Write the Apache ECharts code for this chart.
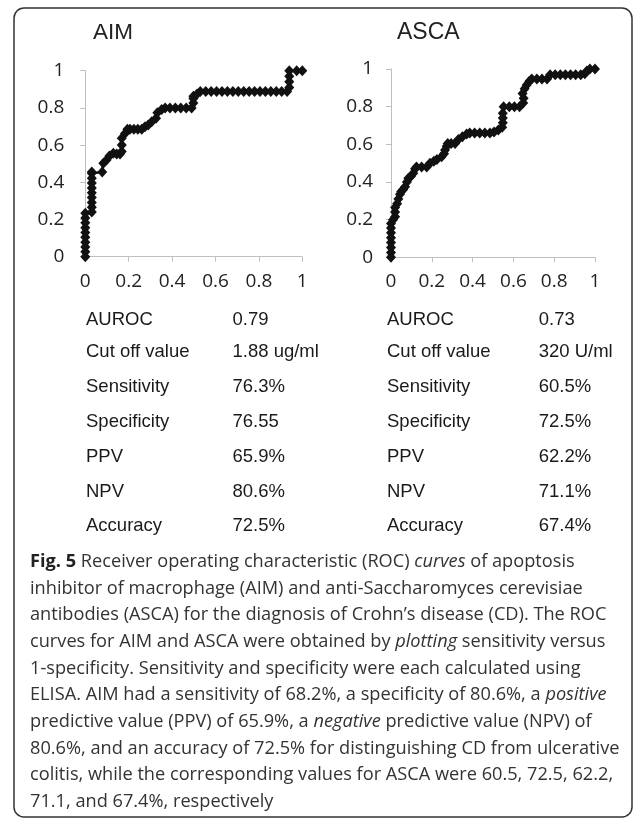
<!DOCTYPE html>
<html>
<head>
<meta charset="utf-8">
<script src="https://cdn.jsdelivr.net/npm/echarts@6/dist/echarts.min.js"></script>
<style>
html,body{margin:0;padding:0;background:#fff;}
#chart{width:633px;height:818px;}
</style>
</head>
<body>
<div id="chart"></div>
<script>
// ---- data ----
const axisTicks = [0, 0.2, 0.4, 0.6, 0.8, 1];
const panelTitles = ['AIM', 'ASCA'];

// AIM ROC curve: [1 - specificity, sensitivity]
const aimRoc = [
  [0,0],[0,0.026],[0,0.052],[0,0.078],[0,0.104],[0,0.13],[0,0.156],[0,0.182],[0,0.208],[0,0.234],
  [0.03,0.24],[0.03,0.266],[0.03,0.292],[0.03,0.318],[0.03,0.344],[0.03,0.37],[0.03,0.396],[0.03,0.422],[0.03,0.448],[0.03,0.455],
  [0.078,0.455],[0.083,0.502],[0.098,0.52],[0.111,0.541],[0.129,0.556],[0.145,0.552],[0.16,0.552],
  [0.168,0.565],[0.168,0.6],[0.168,0.637],
  [0.183,0.663],[0.194,0.685],[0.206,0.685],[0.224,0.685],[0.242,0.685],[0.26,0.685],[0.275,0.699],[0.29,0.708],[0.306,0.726],[0.326,0.744],[0.332,0.774],[0.352,0.792],
  [0.368,0.8],[0.39,0.8],[0.415,0.8],[0.44,0.8],[0.465,0.8],[0.49,0.8],
  [0.498,0.826],[0.498,0.85],[0.498,0.862],
  [0.515,0.875],[0.53,0.888],
  [0.555,0.888],[0.58,0.888],[0.605,0.888],[0.63,0.888],[0.655,0.888],[0.68,0.888],[0.705,0.888],[0.73,0.888],
  [0.755,0.888],[0.78,0.888],[0.805,0.888],[0.83,0.888],[0.855,0.888],[0.88,0.888],[0.905,0.888],[0.93,0.888],
  [0.94,0.91],[0.94,0.94],[0.94,0.97],[0.94,1.0],
  [0.974,1.0],[1.0,1.0]
];

// ASCA ROC curve: [1 - specificity, sensitivity]
const ascaRoc = [
  [0,0],[0,0.026],[0,0.052],[0,0.078],[0,0.104],[0,0.13],[0,0.156],[0,0.18],
  [0.01,0.2],[0.02,0.215],[0.02,0.24],[0.02,0.265],[0.03,0.285],[0.036,0.31],[0.044,0.335],[0.05,0.35],
  [0.06,0.36],[0.069,0.375],[0.078,0.4],[0.085,0.42],[0.098,0.43],[0.109,0.446],[0.118,0.47],[0.125,0.48],
  [0.15,0.48],[0.175,0.48],[0.191,0.5],[0.21,0.51],[0.225,0.52],[0.248,0.534],[0.26,0.55],[0.265,0.57],
  [0.273,0.59],[0.278,0.605],[0.295,0.605],[0.314,0.605],[0.33,0.625],[0.35,0.64],[0.371,0.655],[0.386,0.66],
  [0.41,0.66],[0.435,0.66],[0.46,0.66],[0.485,0.66],[0.505,0.665],[0.526,0.676],[0.545,0.69],
  [0.548,0.715],[0.548,0.74],[0.548,0.765],[0.552,0.8],[0.58,0.8],[0.605,0.8],[0.63,0.8],
  [0.648,0.82],[0.65,0.845],[0.645,0.87],[0.655,0.895],[0.665,0.915],[0.678,0.935],[0.69,0.947],
  [0.715,0.947],[0.74,0.947],[0.765,0.947],[0.78,0.97],[0.805,0.97],[0.83,0.97],[0.855,0.97],
  [0.88,0.97],[0.905,0.97],[0.93,0.97],[0.95,0.975],[0.96,0.99],[0.975,1.0],[1.0,1.0]
];

// summary tables
const tableLabels = ['AUROC','Cut off value','Sensitivity','Specificity','PPV','NPV','Accuracy'];
const aimValues = ['0.79','1.88 ug/ml','76.3%','76.55','65.9%','80.6%','72.5%'];
const ascaValues = ['0.73','320 U/ml','60.5%','72.5%','62.2%','71.1%','67.4%'];

// caption lines (rich-text markup: {b|..} bold, {i|..} italic)
const captionLines = [
  '{b|Fig. 5} Receiver operating characteristic (ROC) {i|curves} of apoptosis',
  'inhibitor of macrophage (AIM) and anti-Saccharomyces cerevisiae',
  'antibodies (ASCA) for the diagnosis of Crohn\u2019s disease (CD). The ROC',
  'curves for AIM and ASCA were obtained by {i|plotting} sensitivity versus',
  '1-specificity. Sensitivity and specificity were each calculated using',
  'ELISA. AIM had a sensitivity of 68.2%, a specificity of 80.6%, a {i|positive}',
  'predictive value (PPV) of 65.9%, a {i|negative} predictive value (NPV) of',
  '80.6%, and an accuracy of 72.5% for distinguishing CD from ulcerative',
  'colitis, while the corresponding values for ASCA were 60.5, 72.5, 62.2,',
  '71.1, and 67.4%, respectively'
];

// ---- layout/styles ----
const tickFont = 'Open Sans';
const tableFont = 'Liberation Sans';
const axisColor = '#bfbfbf';
const textColor = '#222';

const chart = echarts.init(document.getElementById('chart'), null, {renderer: 'canvas'});

function xAxisCfg(gi){
  return {
    gridIndex: gi, type: 'value', min: axisTicks[0], max: axisTicks[axisTicks.length-1],
    interval: axisTicks[1]-axisTicks[0],
    splitLine: {show:false},
    axisLine: {show:true, onZero:false, lineStyle:{color:axisColor, width:1}},
    axisTick: {show:true, length:5, lineStyle:{color:axisColor}},
    axisLabel: {color:textColor, fontFamily:tickFont, fontSize:19, margin:15}
  };
}
function yAxisCfg(gi, margin){
  return {
    gridIndex: gi, type: 'value', min: axisTicks[0], max: axisTicks[axisTicks.length-1],
    interval: axisTicks[1]-axisTicks[0],
    splitLine: {show:false},
    axisLine: {show:true, onZero:false, lineStyle:{color:axisColor, width:1}},
    axisTick: {show:true, length:5, lineStyle:{color:axisColor}},
    axisLabel: {color:textColor, fontFamily:tickFont, fontSize:19, margin:margin}
  };
}
function seriesCfg(i, data){
  return {
    type:'line', xAxisIndex:i, yAxisIndex:i, data:data,
    symbol:'diamond', symbolSize:[10,11], showSymbol:true,
    itemStyle:{color:'#111', borderWidth:0},
    lineStyle:{color:'#111', width:2.5},
    animation:false, silent:true
  };
}

const graphics = [];
graphics.push({
  type:'rect', shape:{x:14, y:8, width:618, height:809, r:10},
  style:{fill:'none', stroke:'#333', lineWidth:1.5}
});
graphics.push({type:'text', style:{text:panelTitles[0], x:93, y:33, fontFamily:tableFont, fontSize:22.5, fill:textColor, verticalAlign:'middle'}});
graphics.push({type:'text', style:{text:panelTitles[1], x:397, y:33, fontFamily:tableFont, fontSize:23, fill:textColor, verticalAlign:'middle'}});

const rowY = [320.3, 351.7, 386.7, 421.7, 456.7, 491.7, 526];
tableLabels.forEach((lab, k) => {
  const base = {fontFamily:tableFont, fontSize:18.5, fill:'#1a1a1a', verticalAlign:'middle'};
  graphics.push({type:'text', style:Object.assign({text:lab, x:86, y:rowY[k]}, base)});
  graphics.push({type:'text', style:Object.assign({text:aimValues[k], x:232.5, y:rowY[k]}, base)});
  graphics.push({type:'text', style:Object.assign({text:lab, x:387, y:rowY[k]}, base)});
  graphics.push({type:'text', style:Object.assign({text:ascaValues[k], x:538.7, y:rowY[k]}, base)});
});

const capFontSize = 18.2;
captionLines.forEach((line, k) => {
  graphics.push({type:'text', style:{
    text: line, x: 30, y: 561.7 + k*26.67,
    fontFamily: 'Open Sans', fontSize: capFontSize, fill:'#333', verticalAlign:'middle',
    rich: {
      b: {fontFamily:'Open Sans', fontSize:capFontSize, fontWeight:'bold', fill:'#222'},
      i: {fontFamily:'Open Sans', fontSize:capFontSize, fontStyle:'italic', fill:'#333'}
    }
  }});
});

chart.setOption({
  animation:false,
  backgroundColor:'#fff',
  grid:[
    {left:85.3, top:70.7, width:217, height:186, containLabel:false, outerBoundsMode:'none'},
    {left:391, top:69, width:204, height:188.3, containLabel:false, outerBoundsMode:'none'}
  ],
  xAxis:[xAxisCfg(0), xAxisCfg(1)],
  yAxis:[yAxisCfg(0, 21), yAxisCfg(1, 18)],
  series:[seriesCfg(0, aimRoc), seriesCfg(1, ascaRoc)],
  graphic: graphics
});
</script>
</body>
</html>
